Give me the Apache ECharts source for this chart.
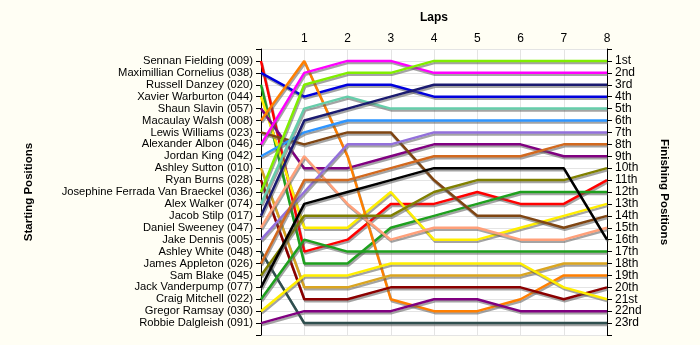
<!DOCTYPE html>
<html>
<head>
<meta charset="utf-8">
<script src="https://cdn.jsdelivr.net/npm/echarts@6/dist/echarts.min.js"></script>
<style>
html,body{margin:0;padding:0;background:#FFFEF4;}
#c{width:700px;height:345px;}
</style>
</head>
<body>
<div id="c"></div>
<script>
// Laps on the x axis
const laps = [0, 1, 2, 3, 4, 5, 6, 7, 8];
// Drivers in starting order (starting position 1..23)
const drivers = [
  'Sennan Fielding (009)', 'Maximillian Cornelius (038)', 'Russell Danzey (020)',
  'Xavier Warburton (044)', 'Shaun Slavin (057)', 'Macaulay Walsh (008)',
  'Lewis Williams (023)', 'Alexander Albon (046)', 'Jordan King (042)',
  'Ashley Sutton (010)', 'Ryan Burns (028)', 'Josephine Ferrada Van Braeckel (036)',
  'Alex Walker (074)', 'Jacob Stilp (017)', 'Daniel Sweeney (047)',
  'Jake Dennis (005)', 'Ashley White (048)', 'James Appleton (026)',
  'Sam Blake (045)', 'Jack Vanderpump (077)', 'Craig Mitchell (022)',
  'Gregor Ramsay (030)', 'Robbie Dalgleish (091)'
];
// Finishing-position tick labels
const finishLabels = ['1st','2nd','3rd','4th','5th','6th','7th','8th','9th','10th','11th','12th',
  '13th','14th','15th','16th','17th','18th','19th','20th','21st','22nd','23rd'];
// Position of each driver at laps 0..8
const posFielding    = [1, 17, 16, 13, 13, 12, 13, 13, 11];
const posCornelius   = [2, 4, 3, 3, 4, 4, 4, 4, 4];
const posDanzey      = [3, 18, 18, 15, 14, 13, 12, 12, 12];
const posWarburton   = [4, 15, 15, 12, 16, 16, 15, 14, 13];
const posSlavin      = [5, 10, 10, 9, 8, 8, 8, 9, 9];
const posWalsh       = [6, 1, 9, 21, 22, 22, 21, 19, 19];
const posWilliams    = [7, 8, 7, 7, 11, 14, 14, 15, 14];
const posAlbon       = [8, 2, 1, 1, 2, 2, 2, 2, 2];
const posKing        = [9, 7, 6, 6, 6, 6, 6, 6, 6];
const posSutton      = [10, 20, 20, 19, 19, 19, 19, 18, 18];
const posBurns       = [11, 21, 21, 20, 20, 20, 20, 21, 20];
const posFerrada     = [12, 3, 2, 2, 1, 1, 1, 1, 1];
const posWalker      = [13, 5, 4, 5, 5, 5, 5, 5, 5];
const posStilp       = [14, 6, 5, 4, 3, 3, 3, 3, 3];
const posSweeney     = [15, 9, 13, 16, 15, 15, 16, 16, 15];
const posDennis      = [16, 12, 8, 8, 7, 7, 7, 7, 7];
const posWhite       = [17, 23, 23, 23, 23, 23, 23, 23, 23];
const posAppleton    = [18, 11, 11, 10, 9, 9, 9, 8, 8];
const posBlake       = [19, 14, 14, 14, 12, 11, 11, 11, 10];
const posVanderpump  = [20, 13, 12, 11, 10, 10, 10, 10, 16];
const posMitchell    = [21, 16, 17, 17, 17, 17, 17, 17, 17];
const posRamsay      = [22, 19, 19, 18, 18, 18, 18, 20, 21];
const posDalgleish   = [23, 22, 22, 22, 21, 21, 22, 22, 22];

const positions = [posFielding, posCornelius, posDanzey, posWarburton, posSlavin, posWalsh,
  posWilliams, posAlbon, posKing, posSutton, posBurns, posFerrada, posWalker, posStilp,
  posSweeney, posDennis, posWhite, posAppleton, posBlake, posVanderpump, posMitchell,
  posRamsay, posDalgleish];

const colors = ['#FF0000', '#0000DD', '#1EA01E', '#FFEE00', '#800080', '#FF7F00', '#7F4512',
  '#FF00FF', '#2E95FF', '#DAA520', '#8B0000', '#80EE00', '#66CDAA', '#1A1A70', '#FFA07A',
  '#9370DB', '#2F4F4F', '#D2691E', '#808000', '#000000', '#1EA01E', '#FFEE00', '#800080'];

const FONT = 'Liberation Sans';
const chart = echarts.init(document.getElementById('c'), null, {renderer: 'canvas'});

const series = drivers.map((name, d) => ({
  name: name,
  type: 'line',
  yAxisIndex: 0,
  symbol: 'none',
  silent: true,
  data: laps.map((lap, i) => [lap, positions[d][i]]),
  lineStyle: {
    color: colors[d],
    width: 2.5,
    shadowColor: 'rgba(90,90,90,0.55)',
    shadowBlur: 0,
    shadowOffsetX: 1,
    shadowOffsetY: 2
  },
  z: 3
}));

chart.setOption({
  animation: false,
  backgroundColor: '#FFFEF4',
  grid: {
    left: 261, top: 49, width: 346, height: 286,
    show: true, backgroundColor: '#FFFFFF', borderWidth: 0
  },
  xAxis: {
    type: 'value', position: 'top', min: 0, max: 8, interval: 1,
    name: 'Laps', nameLocation: 'middle', nameGap: 25,
    nameTextStyle: {fontFamily: FONT, fontWeight: 'bold', fontSize: 12, color: '#000'},
    axisLine: {show: false, onZero: false},
    axisTick: {show: false},
    axisLabel: {
      margin: 4, fontFamily: FONT, fontSize: 12, color: '#000',
      formatter: v => (v === 0 ? '' : String(v))
    },
    splitLine: {show: true, lineStyle: {color: '#E4E4E4', width: 1}}
  },
  yAxis: [
    {
      type: 'value', position: 'left', min: 0, max: 24, interval: 1, inverse: true,
      name: 'Starting Positions', nameLocation: 'middle', nameGap: 226, nameRotate: 90,
      nameTextStyle: {fontFamily: FONT, fontWeight: 'bold', fontSize: 11.5, color: '#000'},
      axisLine: {show: true, onZero: false, lineStyle: {color: '#000', width: 1}},
      axisTick: {show: true, length: 5, lineStyle: {color: '#000'}},
      axisLabel: {
        margin: 8, fontFamily: FONT, fontSize: 11.2, color: '#000',
        formatter: v => (v >= 1 && v <= drivers.length ? drivers[v - 1] : '')
      },
      splitLine: {show: true, lineStyle: {color: '#E4E4E4', width: 1}}
    },
    {
      type: 'value', position: 'right', min: 0, max: 24, interval: 1, inverse: true,
      name: 'Finishing Positions', nameLocation: 'middle', nameGap: 51, nameRotate: -90,
      nameTextStyle: {fontFamily: FONT, fontWeight: 'bold', fontSize: 11.5, color: '#000'},
      axisLine: {show: true, onZero: false, lineStyle: {color: '#000', width: 1}},
      axisTick: {show: true, length: 5, lineStyle: {color: '#000'}},
      axisLabel: {
        margin: 8, fontFamily: FONT, fontSize: 12, color: '#000',
        formatter: v => (v >= 1 && v <= finishLabels.length ? finishLabels[v - 1] : '')
      },
      splitLine: {show: false}
    }
  ],
  series: series
});
</script>
</body>
</html>
